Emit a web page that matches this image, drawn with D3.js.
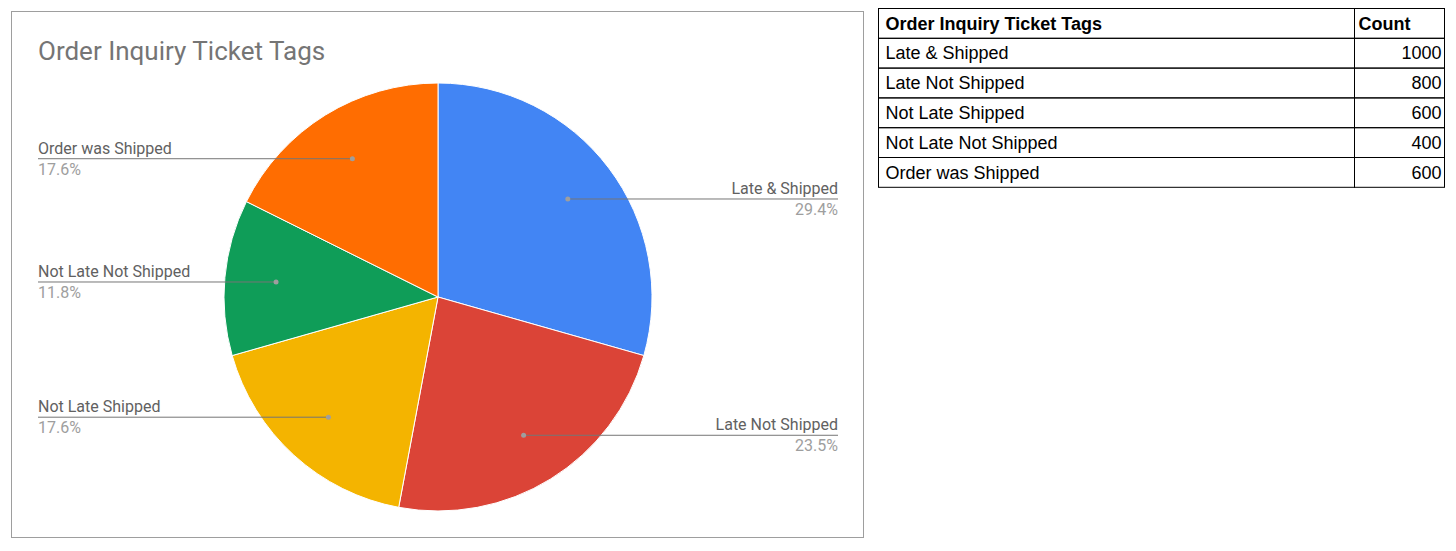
<!DOCTYPE html>
<html><head><meta charset="utf-8">
<script src="https://cdn.jsdelivr.net/npm/d3@7"></script>
<style>body{margin:0;background:#fff;font-family:Roboto,Arial,sans-serif}</style>
</head><body><svg id="c" width="1456" height="551"></svg>
<script>
const categories=["Late & Shipped","Late Not Shipped","Not Late Shipped","Not Late Not Shipped","Order was Shipped"];
const counts=[1000,800,600,400,600];
const colors=["#4285F4","#DB4437","#F4B400","#0F9D58","#FF6D01"];
const tableHeader=["Order Inquiry Ticket Tags","Count"];
const title="Order Inquiry Ticket Tags";

const svg=d3.select("#c");
svg.append("rect").attr("x",11.5).attr("y",11.5).attr("width",852).attr("height",526).attr("fill","#fff").attr("stroke","#9e9e9e");
svg.append("text").attr("x",38).attr("y",60).attr("font-size",26).attr("fill","#757575").text(title);

const cx=438,cy=297,r=214;
const total=d3.sum(counts);
const pie=d3.pie().sort(null).value(d=>d)(counts);
const arc=d3.arc().innerRadius(0).outerRadius(r);
const g=svg.append("g").attr("transform",`translate(${cx},${cy})`);
g.selectAll("path").data(pie).join("path").attr("d",arc).attr("fill",(d,i)=>colors[i]).attr("stroke","#fff").attr("stroke-width",1);

const dotArc=d3.arc().innerRadius(r*0.76).outerRadius(r*0.76);
pie.forEach((d,i)=>{
  const [px,py]=dotArc.centroid(d);
  const x=cx+px,y=cy+py;
  const right=x>cx;
  const lx=right?838:38;
  svg.append("line").attr("x1",x).attr("y1",y).attr("x2",lx).attr("y2",y).attr("stroke","#757575").attr("stroke-width",1);
  svg.append("circle").attr("cx",x).attr("cy",y).attr("r",2.5).attr("fill","#9e9e9e");
  const anchor=right?"end":"start";
  svg.append("text").attr("x",lx).attr("y",y-5).attr("text-anchor",anchor).attr("font-size",16).attr("fill","#616161").text(categories[i]);
  svg.append("text").attr("x",lx).attr("y",y+16).attr("text-anchor",anchor).attr("font-size",16).attr("fill","#9e9e9e").text((d.value/total*100).toFixed(1)+"%");
});

// table
const tx=878.5,ty=8.5,w1=476,w2=90,rh=29.8;
const rows=[tableHeader,...categories.map((c,i)=>[c,String(counts[i])])];
rows.forEach((row,i)=>{
  const y=ty+i*rh;
  svg.append("rect").attr("x",tx).attr("y",y).attr("width",w1).attr("height",rh).attr("fill","none").attr("stroke","#000");
  svg.append("rect").attr("x",tx+w1).attr("y",y).attr("width",w2).attr("height",rh).attr("fill","none").attr("stroke","#000");
  const fw=i===0?"bold":"normal";
  svg.append("text").attr("x",tx+7).attr("y",y+21).attr("font-family","Liberation Sans, Arial").attr("font-size",18).attr("font-weight",fw).text(row[0]);
  svg.append("text").attr("x",i===0?tx+w1+4:tx+w1+w2-3).attr("y",y+21).attr("text-anchor",i===0?"start":"end").attr("font-family","Liberation Sans, Arial").attr("font-size",18).attr("font-weight",fw).text(row[1]);
});
</script></body></html>
